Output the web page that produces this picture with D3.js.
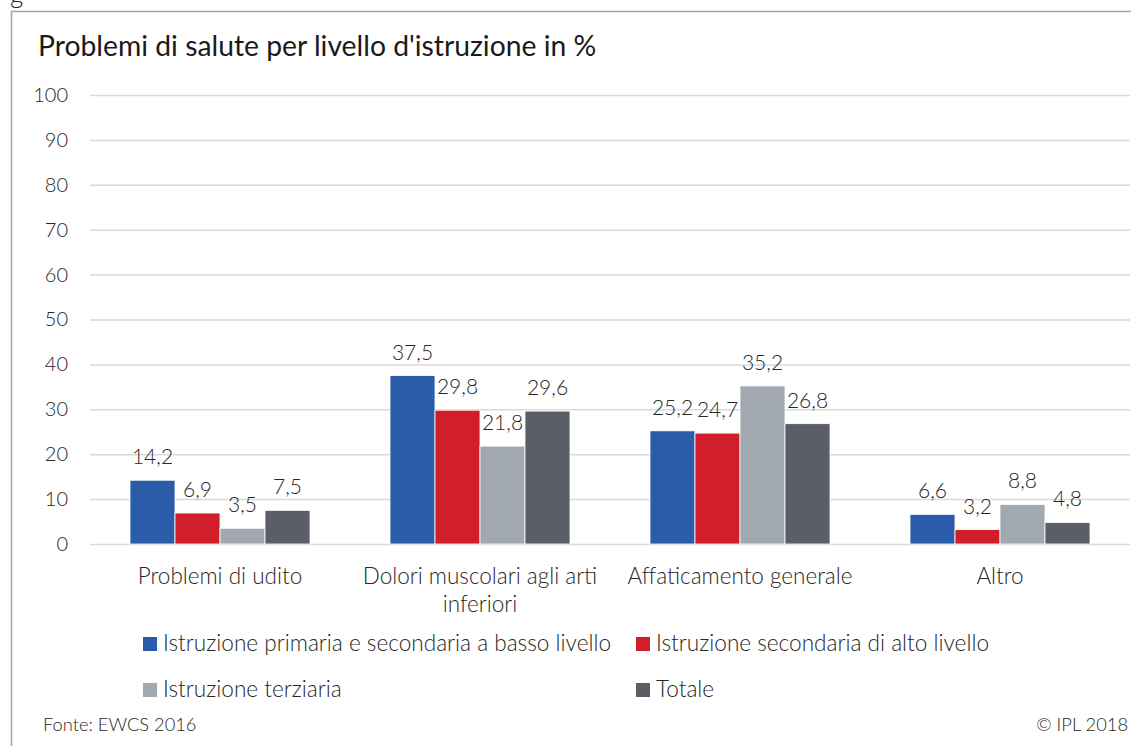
<!DOCTYPE html>
<html>
<head>
<meta charset="utf-8">
<script src="https://cdn.jsdelivr.net/npm/d3@7"></script>
<style>
  body { margin: 0; background: #fff; }
  svg text { font-family: "Source Sans Pro", Lato, "Open Sans", sans-serif; font-weight: 300; }
</style>
</head>
<body>
<svg id="chart"></svg>
<script>
// data
let categories = ["Problemi di udito", "Dolori muscolari agli arti inferiori", "Affaticamento generale", "Altro"];
let seriesNames = [
  "Istruzione primaria e secondaria a basso livello",
  "Istruzione secondaria di alto livello",
  "Istruzione terziaria",
  "Totale"
];
let primaria = [14.2, 37.5, 25.2, 6.6];
let secondaria = [6.9, 29.8, 24.7, 3.2];
let terziaria = [3.5, 21.8, 35.2, 8.8];
let totale = [7.5, 29.6, 26.8, 4.8];
let yTicks = [0, 10, 20, 30, 40, 50, 60, 70, 80, 90, 100];
let colors = ["#2b5ca9", "#d01f2a", "#a1a8b0", "#5a5e66"];

let allSeries = [primaria, secondaria, terziaria, totale];

let width = 1131;
let height = 746;
let plot = {left: 90, right: 1130, top: 95, bottom: 544};

let svg = d3.select('#chart')
  .attr('width', width)
  .attr('height', height);

// frame
svg.append('path')
  .attr('d', 'M11.5,' + height + ' V11.5 H' + width)
  .attr('fill', 'none')
  .attr('stroke', '#a6a6a6')
  .attr('stroke-width', 1.5);

svg.append('text')
  .attr('x', 10).attr('y', 3)
  .attr('font-size', 26).attr('fill', '#222')
  .text('g');

svg.append('text')
  .attr('x', 38).attr('y', 56)
  .attr('font-size', 28.3)
  .style('font-weight', 400)
  .attr('fill', '#1a1a1a')
  .text("Problemi di salute per livello d'istruzione in %");

// scales
let x0 = d3.scaleBand()
  .domain(categories)
  .range([plot.left, plot.right])
  .paddingInner(80 / 260)
  .paddingOuter(40 / 260);

let x1 = d3.scaleBand()
  .domain(d3.range(seriesNames.length))
  .range([0, x0.bandwidth()]);

let y = d3.scaleLinear()
  .domain([0, 100])
  .range([plot.bottom, plot.top]);

// grid + y axis
let yAxis = d3.axisLeft(y)
  .tickValues(yTicks)
  .tickSize(-(plot.right - plot.left))
  .tickPadding(22);

let gy = svg.append('g')
  .attr('transform', 'translate(' + plot.left + ',0)')
  .call(yAxis);
gy.select('.domain').remove();
gy.selectAll('.tick line').attr('stroke', '#d9d9d9').attr('stroke-width', 1.5);
gy.selectAll('.tick text')
  .attr('font-size', 20)
  .attr('fill', '#262626')
  .style('font-family', '"Source Sans Pro", Lato, "Open Sans", sans-serif');

// bars
let groups = svg.selectAll('.cat')
  .data(categories)
  .enter()
  .append('g')
  .attr('class', 'cat')
  .attr('transform', d => 'translate(' + x0(d) + ',0)');

groups.selectAll('rect')
  .data((d, i) => allSeries.map((s, j) => ({s: j, v: s[i]})))
  .enter()
  .append('rect')
  .attr('x', d => x1(d.s))
  .attr('y', d => y(d.v))
  .attr('width', x1.bandwidth())
  .attr('height', d => y(0) - y(d.v))
  .attr('fill', d => colors[d.s])
  .attr('stroke', '#fff')
  .attr('stroke-width', 0.8);

groups.selectAll('text.val')
  .data((d, i) => allSeries.map((s, j) => ({s: j, v: s[i]})))
  .enter()
  .append('text')
  .attr('class', 'val')
  .attr('x', d => x1(d.s) + x1.bandwidth() / 2)
  .attr('y', d => y(d.v) - 16)
  .attr('text-anchor', 'middle')
  .attr('font-size', 21)
  .attr('fill', '#262626')
  .text(d => d3.format('.1f')(d.v).replace('.', ','));

// category labels
let catLines = [["Problemi di udito"], ["Dolori muscolari agli arti", "inferiori"], ["Affaticamento generale"], ["Altro"]];
categories.forEach((c, i) => {
  let t = svg.append('text')
    .attr('x', x0(c) + x0.bandwidth() / 2)
    .attr('y', 584)
    .attr('text-anchor', 'middle')
    .attr('font-size', 22.5)
    .attr('fill', '#262626');
  catLines[i].forEach((line, k) => {
    t.append('tspan')
      .attr('x', x0(c) + x0.bandwidth() / 2)
      .attr('dy', k === 0 ? 0 : 28)
      .text(line);
  });
});

// legend
let legendPos = [[143, 637], [636, 637], [143, 683], [636, 683]];
seriesNames.forEach((name, i) => {
  let g = svg.append('g')
    .attr('transform', 'translate(' + legendPos[i][0] + ',' + legendPos[i][1] + ')');
  g.append('rect')
    .attr('width', 14).attr('height', 14)
    .attr('fill', colors[i]);
  g.append('text')
    .attr('x', 20).attr('y', 14)
    .attr('font-size', 22.6)
    .attr('fill', '#262626')
    .text(name);
});

// footer
svg.append('text')
  .attr('x', 43).attr('y', 731)
  .attr('font-size', 18.3)
  .attr('fill', '#262626')
  .text('Fonte: EWCS 2016');

svg.append('text')
  .attr('x', 1128).attr('y', 731)
  .attr('text-anchor', 'end')
  .attr('font-size', 18.3)
  .attr('fill', '#262626')
  .text('© IPL 2018');
</script>
</body>
</html>
